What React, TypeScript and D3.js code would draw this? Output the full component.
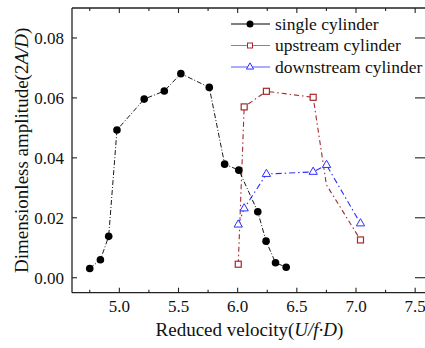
import React, { useRef, useEffect } from "react";
import * as d3 from "d3";

// single cylinder
const singleX = [4.75, 4.84, 4.91, 4.98, 5.21, 5.38, 5.52, 5.76, 5.89, 6.01, 6.17, 6.24, 6.32, 6.41];
const singleY = [0.0031, 0.006, 0.0138, 0.0493, 0.0596, 0.0623, 0.0681, 0.0635, 0.0379, 0.0359, 0.022, 0.0122, 0.005, 0.0035];

// upstream cylinder
const upX = [6.005, 6.055, 6.243, 6.638, 6.75, 7.038];
const upY = [0.0045, 0.057, 0.0622, 0.0602, 0.031, 0.0126];
const upMarked = [true, true, true, true, false, true];

// downstream cylinder
const downX = [6.005, 6.055, 6.243, 6.638, 6.751, 7.038];
const downY = [0.0177, 0.0231, 0.0346, 0.0353, 0.0376, 0.0181];

const xTicks = [5.0, 5.5, 6.0, 6.5, 7.0, 7.5];
const xMinorTicks = [4.75, 5.25, 5.75, 6.25, 6.75, 7.25];
const yTicks = [0.0, 0.02, 0.04, 0.06, 0.08];

const legendLabels = ["single cylinder", "upstream cylinder", "downstream cylinder"];

const App = () => {
    const ref = useRef<SVGSVGElement>(null);

    useEffect(() => {
        const width = 425;
        const height = 348;
        const margin = { top: 8, left: 72, right: 427, bottom: 292.7 };
        const font = "Liberation Serif, Times New Roman, serif";
        const black = "#000000";
        const red = "#a8282c";
        const redLight = "#c07070";
        const blue = "#2f2fff";
        const blueLight = "#5a5aff";

        const svg = d3.select(ref.current)
            .attr("width", width)
            .attr("height", height)
            .style("font-family", font);
        svg.selectAll("*").remove();

        const x = d3.scaleLinear().domain([4.6, 7.6]).range([margin.left, margin.right]);
        const y = d3.scaleLinear().domain([-0.005, 0.09]).range([margin.bottom, margin.top]);

        svg.append("rect")
            .attr("width", width).attr("height", height).attr("fill", "white");

        // frame
        const frame = svg.append("g").attr("stroke", "#222").attr("stroke-width", 1.3).attr("fill", "none");
        frame.append("line").attr("x1", margin.left).attr("x2", margin.right).attr("y1", margin.top).attr("y2", margin.top);
        frame.append("line").attr("x1", margin.left).attr("x2", margin.right).attr("y1", margin.bottom).attr("y2", margin.bottom);
        frame.append("line").attr("x1", margin.left).attr("x2", margin.left).attr("y1", margin.top).attr("y2", margin.bottom);
        frame.append("line").attr("x1", margin.right).attr("x2", margin.right).attr("y1", margin.top).attr("y2", margin.bottom);

        // ticks (inward)
        const ticks = svg.append("g").attr("stroke", "#222").attr("stroke-width", 1.1);
        xTicks.forEach(t => {
            ticks.append("line").attr("x1", x(t)).attr("x2", x(t)).attr("y1", margin.bottom).attr("y2", margin.bottom - 5);
            ticks.append("line").attr("x1", x(t)).attr("x2", x(t)).attr("y1", margin.top).attr("y2", margin.top + 5);
        });
        xMinorTicks.forEach(t => {
            ticks.append("line").attr("x1", x(t)).attr("x2", x(t)).attr("y1", margin.bottom).attr("y2", margin.bottom - 3);
            ticks.append("line").attr("x1", x(t)).attr("x2", x(t)).attr("y1", margin.top).attr("y2", margin.top + 3);
        });
        yTicks.forEach(t => {
            ticks.append("line").attr("x1", margin.left).attr("x2", margin.left + 5).attr("y1", y(t)).attr("y2", y(t));
            ticks.append("line").attr("x1", margin.right).attr("x2", margin.right - 12).attr("y1", y(t)).attr("y2", y(t));
        });

        // tick labels
        svg.append("g").selectAll("text").data(xTicks).enter().append("text")
            .attr("x", d => x(d)).attr("y", 312)
            .attr("text-anchor", "middle")
            .attr("font-size", 17).attr("fill", "#111")
            .text(d => d.toFixed(1));

        svg.append("g").selectAll("text").data(yTicks).enter().append("text")
            .attr("x", 64).attr("y", d => y(d) + 6)
            .attr("text-anchor", "end")
            .attr("font-size", 17).attr("fill", "#111")
            .text(d => d.toFixed(2));

        // axis titles
        const xt = svg.append("text")
            .attr("x", (margin.left + margin.right) / 2).attr("y", 336)
            .attr("text-anchor", "middle")
            .attr("font-size", 19).attr("fill", "#111");
        xt.append("tspan").text("Reduced velocity(");
        xt.append("tspan").attr("font-style", "italic").text("U/f·D");
        xt.append("tspan").text(")");

        const yt = svg.append("text")
            .attr("transform", `translate(28,${(margin.top + margin.bottom) / 2}) rotate(-90)`)
            .attr("text-anchor", "middle")
            .attr("font-size", 19).attr("fill", "#111");
        yt.append("tspan").text("Dimensionless amplitude(2");
        yt.append("tspan").attr("font-style", "italic").text("A/D");
        yt.append("tspan").text(")");

        const line = d3.line<[number, number]>().x(d => x(d[0])).y(d => y(d[1]));
        const zip = (xs: number[], ys: number[]) => xs.map((v, i) => [v, ys[i]] as [number, number]);

        // lines
        svg.append("path").attr("d", line(zip(upX, upY)))
            .attr("fill", "none").attr("stroke", red).attr("stroke-width", 1.1)
            .attr("stroke-dasharray", "5,3,1.5,3");
        svg.append("path").attr("d", line(zip(downX, downY)))
            .attr("fill", "none").attr("stroke", blue).attr("stroke-width", 1.1)
            .attr("stroke-dasharray", "6,3,1.5,3");
        svg.append("path").attr("d", line(zip(singleX, singleY)))
            .attr("fill", "none").attr("stroke", black).attr("stroke-width", 0.9)
            .attr("stroke-dasharray", "5,2,1,2");

        // markers
        const tri = d3.symbol().type(d3.symbolTriangle).size(30);
        svg.append("g").selectAll("path").data(zip(downX, downY)).enter().append("path")
            .attr("d", tri)
            .attr("transform", d => `translate(${x(d[0])},${y(d[1])})`)
            .attr("fill", "white").attr("stroke", blue).attr("stroke-width", 1);

        svg.append("g").selectAll("rect").data(zip(upX, upY).filter((_, i) => upMarked[i])).enter().append("rect")
            .attr("x", d => x(d[0]) - 3).attr("y", d => y(d[1]) - 3)
            .attr("width", 6).attr("height", 6)
            .attr("fill", "white").attr("stroke", red).attr("stroke-width", 1.2);

        svg.append("g").selectAll("circle").data(zip(singleX, singleY)).enter().append("circle")
            .attr("cx", d => x(d[0])).attr("cy", d => y(d[1])).attr("r", 3.8)
            .attr("fill", black);

        // legend
        const lg = svg.append("g");
        const rows = [24, 45.5, 67];
        const lineCols = [black, redLight, blueLight];
        legendLabels.forEach((label, i) => {
            const ly = rows[i];
            lg.append("line").attr("x1", 231).attr("x2", 270).attr("y1", ly).attr("y2", ly)
                .attr("stroke", lineCols[i]).attr("stroke-width", 1.2);
            if (i === 0) {
                lg.append("circle").attr("cx", 250).attr("cy", ly).attr("r", 3.5).attr("fill", black);
            } else if (i === 1) {
                lg.append("rect").attr("x", 247.5).attr("y", ly - 2.5).attr("width", 5).attr("height", 5)
                    .attr("fill", "white").attr("stroke", red).attr("stroke-width", 1);
            } else {
                lg.append("path").attr("d", d3.symbol().type(d3.symbolTriangle).size(22)())
                    .attr("transform", `translate(250,${ly})`)
                    .attr("fill", "white").attr("stroke", blue).attr("stroke-width", 1);
            }
            lg.append("text").attr("x", 275).attr("y", ly + 5.5)
                .attr("font-size", 17.5).attr("fill", "#111")
                .text(label);
        });
    }, []);

    return (
        <div style={{ position: "absolute", left: 0, top: 0 }}>
            <svg ref={ref}></svg>
        </div>
    );
};

export default App;
